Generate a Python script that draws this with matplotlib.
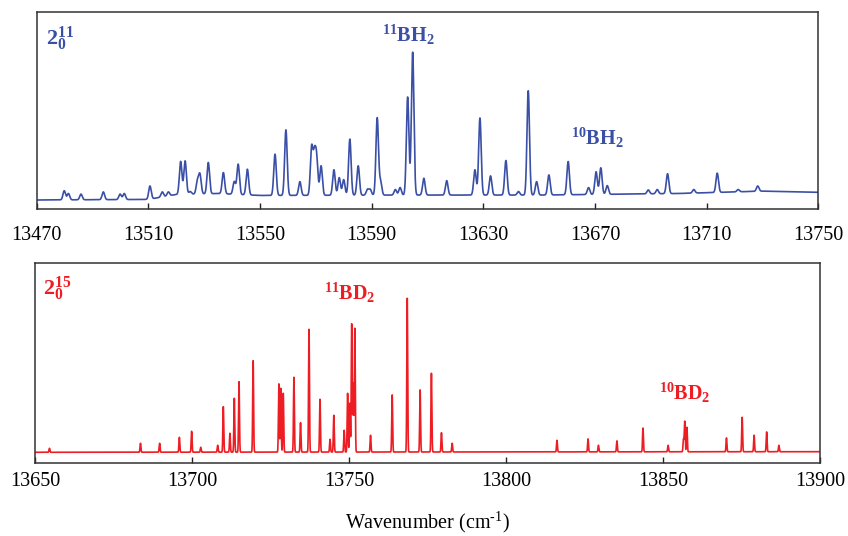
import numpy as np
import matplotlib
matplotlib.use('Agg')
import matplotlib.pyplot as plt

plt.rcParams['font.family'] = ['Liberation Serif', 'DejaVu Serif']
plt.rcParams['mathtext.fontset'] = 'custom'
plt.rcParams['mathtext.rm'] = 'Liberation Serif'
plt.rcParams['mathtext.bf'] = 'Liberation Serif:bold'
plt.rcParams['mathtext.it'] = 'Liberation Serif:italic'

# ---------------- data: BH2 band (top) ----------------
bh_centers = [13479.9, 13481.4, 13485.9, 13493.9, 13499.9, 13501.4, 13510.6, 13515.0,
              13517.2, 13521.6, 13523.2, 13525.0, 13527.6, 13528.5, 13531.5, 13536.9,
              13540.8, 13542.2, 13545.5, 13555.4, 13559.3, 13564.3, 13568.5, 13569.5,
              13570.3, 13571.9, 13576.5, 13578.4, 13580.0, 13582.2, 13585.2, 13588.5,
              13589.5, 13592.0, 13593.2, 13598.5, 13600.2, 13602.9, 13604.7, 13608.7,
              13616.9, 13627.0, 13628.8, 13632.6, 13638.1, 13642.6, 13646.1, 13649.1,
              13653.5, 13660.4, 13667.7, 13670.4, 13672.1, 13674.4, 13689.1, 13692.3,
              13696.0, 13705.4, 13713.8, 13721.3, 13728.3]
bh_heights = [0.094, 0.080, 0.077, 0.088, 0.077, 0.080, 0.118, 0.088,
              0.088, 0.242, 0.245, 0.090, 0.140, 0.174, 0.237, 0.186,
              0.140, 0.228, 0.203, 0.279, 0.402, 0.140, 0.310, 0.260,
              0.250, 0.220, 0.200, 0.160, 0.150, 0.355, 0.220, 0.100,
              0.100, 0.462, 0.140, 0.100, 0.110, 0.568, 0.795, 0.157,
              0.145, 0.200, 0.462, 0.169, 0.247, 0.090, 0.600, 0.140,
              0.174, 0.242, 0.110, 0.190, 0.210, 0.120, 0.098, 0.100,
              0.180, 0.100, 0.183, 0.100, 0.118]
bh_base_x = [13470, 13510, 13520, 13535, 13550, 13600, 13650, 13700, 13730, 13750]
bh_base_y = [0.047, 0.050, 0.075, 0.080, 0.070, 0.072, 0.072, 0.080, 0.092, 0.086]
bh_ticks = [13470, 13510, 13550, 13590, 13630, 13670, 13710, 13750]

# ---------------- data: BD2 band (bottom) ----------------
bd_centers = [13654.5, 13683.5, 13689.6, 13695.9, 13699.8, 13702.7, 13708.1, 13709.9,
              13712.0, 13713.4, 13714.9, 13719.4, 13727.6, 13728.2, 13729.0, 13732.4,
              13734.5, 13737.2, 13740.7, 13743.9, 13745.1, 13748.4, 13749.5, 13750.2,
              13750.8, 13751.3, 13751.8, 13756.8, 13763.7, 13768.5, 13772.6, 13776.2,
              13779.4, 13782.8, 13816.2, 13826.1, 13829.4, 13835.3, 13843.6, 13851.6,
              13856.5, 13856.9, 13857.6, 13870.2, 13875.2, 13879.0, 13883.0, 13886.9]
bd_heights = [0.075, 0.100, 0.100, 0.130, 0.160, 0.080, 0.090, 0.283,
              0.150, 0.325, 0.408, 0.513, 0.397, 0.375, 0.350, 0.430,
              0.203, 0.670, 0.320, 0.120, 0.240, 0.165, 0.350, 0.300,
              0.697, 0.400, 0.675, 0.140, 0.342, 0.825, 0.367, 0.450,
              0.153, 0.100, 0.115, 0.122, 0.090, 0.112, 0.176, 0.090,
              0.120, 0.210, 0.180, 0.127, 0.230, 0.140, 0.157, 0.090]
bd_base_x = [13650, 13900]
bd_base_y = [0.055, 0.058]
bd_ticks = [13650, 13700, 13750, 13800, 13850, 13900]

BLUE = '#3a4fa6'
RED = '#ee1d23'


def spectrum(xmin, xmax, centers, heights, bx, by, sigma):
    x = np.arange(xmin, xmax, 0.01)
    base = np.interp(x, bx, by)
    y = base.copy()
    for c, h in zip(centers, heights):
        amp = h - np.interp(c, bx, by)
        y += amp * np.exp(-0.5 * ((x - c) / sigma) ** 2)
    return x, y


fig = plt.figure(figsize=(8.48, 5.36), dpi=100)
W, H = 848, 536

def add_ax(x0, y0, x1, y1):
    return fig.add_axes([x0 / W, 1 - y1 / H, (x1 - x0) / W, (y1 - y0) / H])

ax1 = add_ax(36.6, 11.7, 818.3, 209.3)
ax2 = add_ax(35.3, 263.3, 820.0, 463.3)

x1, y1 = spectrum(13470, 13750, bh_centers, bh_heights, bh_base_x, bh_base_y, 0.45)
ax1.plot(x1, y1, color=BLUE, lw=1.2)
ax1.set_xlim(13470, 13750)
ax1.set_ylim(0, 1)
ax1.set_xticks(bh_ticks)

x2, y2 = spectrum(13650, 13900, bd_centers, bd_heights, bd_base_x, bd_base_y, 0.14)
ax2.plot(x2, y2, color=RED, lw=1.2)
ax2.set_xlim(13650, 13900)
ax2.set_ylim(0, 1)
ax2.set_xticks(bd_ticks)

for ax, pad in ((ax1, 12), (ax2, 6)):
    ax.set_yticks([])
    ax.tick_params(axis='x', direction='in', length=4, width=1.0, labelsize=14.5,
                   pad=pad, color='#222222')
    for s in ax.spines.values():
        s.set_linewidth(1.1)
        s.set_color('#333333')

ax2.set_xlabel(r'Wavenumber (cm$^{\mathregular{\text{-}1}}$)', fontsize=14.5, labelpad=14)

# annotations
ax1.text(0.012, 0.831, r'$\mathbf{2}_{\mathbf{0}}^{\mathbf{11}}$', transform=ax1.transAxes,
         color=BLUE, fontsize=16, ha='left', va='baseline')
ax1.text(0.475, 0.848, r'$^{\mathbf{11}}\mathbf{BH}_{\mathbf{2}}$', transform=ax1.transAxes,
         color=BLUE, fontsize=14.5, ha='center', va='baseline')
ax1.text(0.717, 0.325, r'$^{\mathbf{10}}\mathbf{BH}_{\mathbf{2}}$', transform=ax1.transAxes,
         color=BLUE, fontsize=14.5, ha='center', va='baseline')

ax2.text(0.010, 0.842, r'$\mathbf{2}_{\mathbf{0}}^{\mathbf{15}}$', transform=ax2.transAxes,
         color=RED, fontsize=16, ha='left', va='baseline')
ax2.text(0.401, 0.817, r'$^{\mathbf{11}}\mathbf{BD}_{\mathbf{2}}$', transform=ax2.transAxes,
         color=RED, fontsize=14.5, ha='center', va='baseline')
ax2.text(0.828, 0.317, r'$^{\mathbf{10}}\mathbf{BD}_{\mathbf{2}}$', transform=ax2.transAxes,
         color=RED, fontsize=14.5, ha='center', va='baseline')

fig.savefig('out.png', dpi=100)
